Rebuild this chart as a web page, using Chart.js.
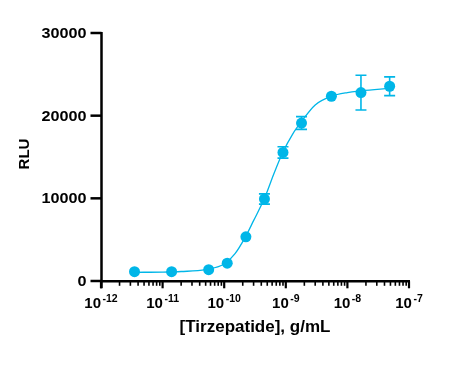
<!DOCTYPE html>
<html lang="en">
<head>
  <meta charset="UTF-8" />
  <title>Tirzepatide dose response</title>
  <script src="https://cdn.jsdelivr.net/npm/chart.js"></script>
  <style>
    html, body { margin: 0; padding: 0; background: #fff; }
    #wrap { width: 461px; height: 375px; }
  </style>
</head>
<body>
  <div id="wrap"><canvas id="doseChart" width="461" height="375"></canvas></div>

  <script>
    // measured points (g/mL vs RLU), mean +/- error
    const conc = [3.5e-12, 1.4e-11, 5.6e-11, 1.12e-10, 2.25e-10, 4.5e-10, 9.0e-10, 1.8e-9, 5.5e-9, 1.66e-8, 4.85e-8];
    const rlu = [1130, 1130, 1370, 2150, 5340, 9920, 15550, 19110, 22350, 22790, 23560];
    const rluErr = [0, 0, 0, 0, 0, 620, 690, 770, 0, 2100, 1130];

    // fitted curve
    const curveX = [3.5e-12, 1e-11, 2e-11, 5e-11, 1e-10, 1.5e-10, 2.2e-10, 3e-10, 4.5e-10, 6.5e-10, 9e-10, 1.3e-9, 1.8e-9, 3e-9, 5.5e-9, 1e-8, 1.7e-8, 4.85e-8];
    const curveY = [1050, 1080, 1150, 1380, 2050, 3300, 5300, 7300, 10000, 13100, 15600, 17800, 19300, 21300, 22350, 22800, 23000, 23300];

    // axis ticks
    const xDecades = [-12, -11, -10, -9, -8, -7];
    const yTicks = [0, 10000, 20000, 30000];

    const blue = '#00b6e8';
    const txtFont = '"Liberation Sans", Arial, sans-serif';

    const axesPlugin = {
      id: 'prismAxes',
      beforeDatasetsDraw(chart) {
        const { ctx, chartArea: a, scales: { x, y } } = chart;
        ctx.save();
        // error bars
        ctx.strokeStyle = blue;
        ctx.lineWidth = 1.6;
        conc.forEach((c, i) => {
          if (!rluErr[i]) return;
          const px = x.getPixelForValue(c);
          const top = y.getPixelForValue(rlu[i] + rluErr[i]);
          const bot = y.getPixelForValue(rlu[i] - rluErr[i]);
          ctx.beginPath();
          ctx.moveTo(px, top); ctx.lineTo(px, bot);
          ctx.moveTo(px - 5.5, top); ctx.lineTo(px + 5.5, top);
          ctx.moveTo(px - 5.5, bot); ctx.lineTo(px + 5.5, bot);
          ctx.stroke();
        });

        // axis lines
        ctx.strokeStyle = '#000';
        ctx.lineWidth = 2.5;
        const ax = a.left + 0.5;
        const ay = a.bottom + 0.3;
        ctx.beginPath();
        ctx.moveTo(ax, a.top - 1);
        ctx.lineTo(ax, ay + 7);
        ctx.moveTo(ax, ay);
        ctx.lineTo(a.right + 1, ay);
        ctx.stroke();

        // y ticks + labels
        ctx.fillStyle = '#000';
        ctx.textAlign = 'right';
        ctx.textBaseline = 'middle';
        yTicks.forEach(v => {
          const py = y.getPixelForValue(v);
          ctx.beginPath();
          ctx.moveTo(ax - 11, py); ctx.lineTo(ax, py);
          ctx.stroke();
          ctx.save();
          ctx.translate(ax - 15, py + 1);
          ctx.scale(1.08, 1);
          ctx.font = 'bold 15px ' + txtFont;
          ctx.fillText(String(v), 0, 0);
          ctx.restore();
        });

        // x ticks (major + minor)
        xDecades.forEach((e, i) => {
          const px = x.getPixelForValue(Math.pow(10, e));
          ctx.lineWidth = 2.2;
          ctx.beginPath();
          ctx.moveTo(px, ay); ctx.lineTo(px, ay + 7);
          ctx.stroke();
          if (i < xDecades.length - 1) {
            ctx.lineWidth = 1.6;
            for (let k = 2; k <= 9; k++) {
              const mx = x.getPixelForValue(k * Math.pow(10, e));
              ctx.beginPath();
              ctx.moveTo(mx, ay); ctx.lineTo(mx, ay + 4.5);
              ctx.stroke();
            }
          }
          // label 10^e
          const base = '10', sup = '-' + String(-e);
          ctx.font = 'bold 15px ' + txtFont;
          const wb = ctx.measureText(base).width;
          ctx.font = 'bold 10.5px ' + txtFont;
          const ws = ctx.measureText(sup).width;
          const start = px - (wb + 1.5 + ws) / 2;
          ctx.textAlign = 'left';
          ctx.textBaseline = 'alphabetic';
          ctx.font = 'bold 15px ' + txtFont;
          ctx.fillText(base, start, 308);
          ctx.font = 'bold 10.5px ' + txtFont;
          ctx.fillText(sup, start + wb + 1.5, 302);
        });

        // axis titles
        ctx.textAlign = 'center';
        ctx.textBaseline = 'middle';
        ctx.font = 'bold 17px ' + txtFont;
        ctx.fillText('[Tirzepatide], g/mL', (a.left + a.right) / 2, 327);
        ctx.save();
        ctx.translate(25, 154);
        ctx.rotate(-Math.PI / 2);
        ctx.font = 'bold 15px ' + txtFont;
        ctx.fillText('RLU', 0, 0);
        ctx.restore();
        ctx.restore();
      }
    };

    const ctx = document.getElementById('doseChart').getContext('2d');
    new Chart(ctx, {
      data: {
        datasets: [
          {
            type: 'line',
            data: curveX.map((c, i) => ({ x: c, y: curveY[i] })),
            borderColor: blue,
            borderWidth: 1.3,
            pointRadius: 0,
            cubicInterpolationMode: 'monotone',
            fill: false
          },
          {
            type: 'scatter',
            data: conc.map((c, i) => ({ x: c, y: rlu[i] })),
            backgroundColor: blue,
            borderColor: blue,
            pointRadius: 5.5,
            pointBorderWidth: 0
          }
        ]
      },
      options: {
        responsive: false,
        animation: false,
        layout: { padding: { left: 0, top: 33, right: 52, bottom: 0 } },
        plugins: { legend: { display: false }, tooltip: { enabled: false } },
        scales: {
          x: {
            type: 'logarithmic',
            min: 1e-12,
            max: 1e-7,
            position: 'bottom',
            grid: { display: false },
            border: { display: false },
            ticks: { display: false },
            afterFit: s => { s.height = 94; }
          },
          y: {
            type: 'linear',
            min: 0,
            max: 30000,
            grid: { display: false },
            border: { display: false },
            ticks: { display: false, stepSize: 10000 },
            afterFit: s => { s.width = 101; }
          }
        }
      },
      plugins: [axesPlugin]
    });
  </script>
</body>
</html>
